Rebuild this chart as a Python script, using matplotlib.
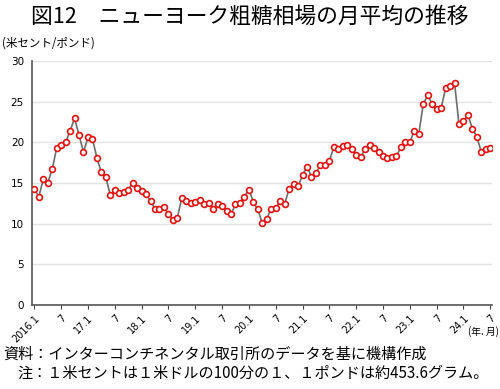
import matplotlib
matplotlib.use("Agg")
import matplotlib.pyplot as plt

plt.rcParams["font.family"] = ["Noto Sans CJK JP", "DejaVu Sans"]

# ========================= Data =========================#
# monthly average, US cents / pound, 2016.1 - 2024.7
prices = [
    14.3, 13.3, 15.45, 15.0, 16.7, 19.3, 19.7, 20.0, 21.4, 22.95, 20.9, 18.8,   # 2016
    20.6, 20.45, 18.1, 16.3, 15.7, 13.5, 14.1, 13.8, 13.9, 14.2, 15.0, 14.4,    # 2017
    14.0, 13.6, 12.8, 11.8, 11.8, 12.1, 11.15, 10.45, 10.75, 13.2, 12.8, 12.55, # 2018
    12.65, 12.9, 12.45, 12.5, 11.85, 12.45, 12.15, 11.55, 11.15, 12.4, 12.6, 13.3,  # 2019
    14.2, 12.65, 11.75, 10.05, 10.6, 11.85, 11.9, 12.8, 12.4, 14.3, 14.9, 14.6,  # 2020
    15.95, 17.0, 15.8, 16.2, 17.2, 17.2, 17.75, 19.4, 19.2, 19.6, 19.7, 19.2,   # 2021
    18.45, 18.2, 19.15, 19.65, 19.25, 18.85, 18.35, 18.05, 18.25, 18.3, 19.4, 20.05,  # 2022
    20.0, 21.45, 21.0, 24.7, 25.8, 24.75, 24.1, 24.2, 26.65, 26.95, 27.35, 22.2,  # 2023
    22.6, 23.35, 21.7, 20.65, 18.8, 19.2, 19.35,                                # 2024
]
tick_labels = ["2016.1", "7", "17.1", "7", "18.1", "7", "19.1", "7", "20.1", "7",
               "21.1", "7", "22.1", "7", "23.1", "7", "24.1", "7"]
y_ticks = [0, 5, 10, 15, 20, 25, 30]

title = "図12　ニューヨーク粗糖相場の月平均の推移"
unit = "(米セント/ポンド)"
source = "資料：インターコンチネンタル取引所のデータを基に機構作成"
note = "注：１米セントは１米ドルの100分の１、１ポンドは約453.6グラム。"

# ========================= Plot =========================#
fig = plt.figure(figsize=(5.0, 3.89), dpi=100)
ax = fig.add_axes([0.0646, 0.216, 0.92, 0.627])

x = list(range(len(prices)))
ax.plot(x, prices, color="#6e6e6e", lw=1.2, marker="o", ms=4.2,
        mfc="white", mec="#e0120f", mew=1.2, zorder=3)

ax.set_ylim(0, 30)
ax.set_xlim(-0.45, len(prices) - 1 + 0.45)
ax.set_yticks(y_ticks)
ax.set_yticklabels([str(v) for v in y_ticks], family="DejaVu Sans", fontsize=7.5)
ax.set_xticks(x[::6])
ax.set_xticklabels(tick_labels, rotation=45, ha="right", va="top",
                   family="DejaVu Sans", fontsize=7, rotation_mode="anchor")
ax.tick_params(axis="y", length=0, pad=6)
ax.tick_params(axis="x", length=3, width=0.8, color="#444444", pad=3)

ax.grid(axis="y", color="#e2e2e2", lw=1)
ax.set_axisbelow(True)
for s in ["top", "right"]:
    ax.spines[s].set_visible(False)
ax.spines["left"].set_color("#555555")
ax.spines["bottom"].set_color("#555555")
ax.spines["left"].set_linewidth(1.2)
ax.spines["bottom"].set_linewidth(1.2)

fig.text(0.5, 0.957, title, ha="center", va="center", fontsize=15.7)
fig.text(0.004, 0.89, unit, ha="left", va="center", fontsize=8.3)
fig.text(0.998, 0.147, "(年. 月)", ha="right", va="center", fontsize=7)
fig.text(0.006, 0.09, source, ha="left", va="center", fontsize=10.9)
fig.text(0.034, 0.041, note, ha="left", va="center", fontsize=10.9)

fig.savefig("out.png", dpi=100)
